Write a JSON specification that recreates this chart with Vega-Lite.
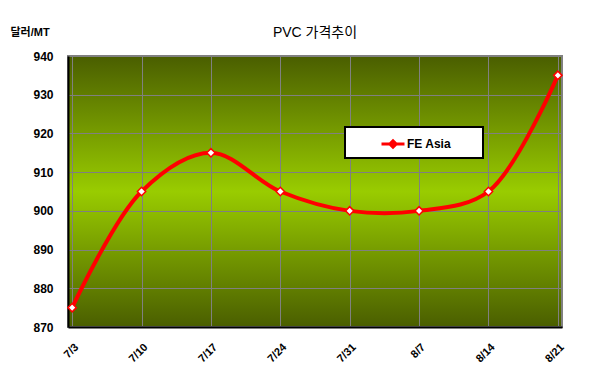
{
  "$schema": "https://vega.github.io/schema/vega-lite/v6.json",
  "width": 494,
  "height": 271,
  "autosize": {"type": "none"},
  "padding": {"left": 68, "top": 56, "right": 38, "bottom": 49},
  "background": "white",
  "title": {
    "text": "PVC 가격추이",
    "anchor": "middle",
    "font": "Liberation Sans, Noto Sans CJK KR",
    "fontSize": 14,
    "fontWeight": "normal",
    "color": "black",
    "offset": -14
  },
  "data": {
    "values": [
      {"date": "7/3", "price": 875, "series": "FE Asia"},
      {"date": "7/10", "price": 905, "series": "FE Asia"},
      {"date": "7/17", "price": 915, "series": "FE Asia"},
      {"date": "7/24", "price": 905, "series": "FE Asia"},
      {"date": "7/31", "price": 900, "series": "FE Asia"},
      {"date": "8/7", "price": 900, "series": "FE Asia"},
      {"date": "8/14", "price": 905, "series": "FE Asia"},
      {"date": "8/21", "price": 935, "series": "FE Asia"}
    ]
  },
  "encoding": {
    "x": {
      "field": "date",
      "type": "ordinal",
      "sort": null,
      "scale": {"type": "point", "padding": 0.06},
      "axis": {
        "title": null,
        "labelAngle": -45,
        "labelFont": "Liberation Sans",
        "labelFontWeight": "bold",
        "labelFontSize": 11,
        "labelColor": "black",
        "labelPadding": 14,
        "ticks": false,
        "domainColor": "black",
        "domainWidth": 2,
        "grid": true,
        "gridColor": "#808080",
        "gridWidth": 1
      }
    },
    "y": {
      "field": "price",
      "type": "quantitative",
      "scale": {"domain": [870, 940], "nice": false, "zero": false},
      "axis": {
        "values": [870, 880, 890, 900, 910, 920, 930, 940],
        "title": "달러/MT",
        "titleAngle": 0,
        "titleX": -58,
        "titleY": -24,
        "titleAlign": "left",
        "titleBaseline": "middle",
        "titleFont": "Liberation Sans, Noto Sans CJK KR",
        "titleFontSize": 11,
        "titleFontWeight": "bold",
        "titleColor": "black",
        "labelFont": "Liberation Sans",
        "labelFontWeight": "bold",
        "labelFontSize": 12,
        "labelColor": "black",
        "labelPadding": 15,
        "ticks": false,
        "domainColor": "black",
        "domainWidth": 2,
        "grid": true,
        "gridColor": "#808080",
        "gridWidth": 1
      }
    }
  },
  "layer": [
    {
      "mark": {"type": "line", "strokeWidth": 4, "interpolate": "catmull-rom"},
      "encoding": {
        "color": {
          "field": "series",
          "type": "nominal",
          "scale": {"range": ["#ff0000"]},
          "legend": {
            "orient": "none",
            "legendX": 277,
            "legendY": 71,
            "title": null,
            "fillColor": "white",
            "strokeColor": "black",
            "padding": 4,
            "symbolOffset": 31,
            "symbolType": "M-1,0H1M-0.28,0L0,-0.28L0.28,0L0,0.28Z",
            "symbolSize": 529,
            "labelOffset": 1,
            "labelFont": "Liberation Sans",
            "labelFontWeight": "bold",
            "labelFontSize": 12,
            "labelColor": "black",
            "labelExpr": "datum.label + '\u2800\u2800\u2800'",
            "encode": {
              "symbols": {"update": {"fill": {"value": "white"}, "stroke": {"value": "#ff0000"}, "strokeWidth": {"value": 3}}},
              "legend": {"update": {"strokeWidth": {"value": 2}}}
            }
          }
        }
      }
    },
    {
      "mark": {"type": "point", "shape": "diamond", "filled": true, "fill": "white", "stroke": "#ff0000", "strokeWidth": 1.5, "size": 70, "opacity": 1}
    }
  ],
  "config": {
    "view": {
      "stroke": "#808080",
      "strokeWidth": 2,
      "fill": {
        "gradient": "linear",
        "x1": 0, "y1": 0, "x2": 0, "y2": 1,
        "stops": [
          {"offset": 0, "color": "#4a5e00"},
          {"offset": 0.5, "color": "#99cc00"},
          {"offset": 1, "color": "#4a5e00"}
        ]
      }
    }
  }
}
